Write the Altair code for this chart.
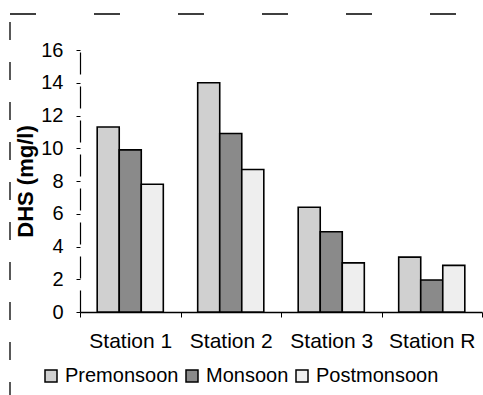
import altair as alt
import pandas as pd

# Dissolved hydrogen sulphide per sampling station and season
stations = ["Station 1", "Station 2", "Station 3", "Station R"]
seasons = ["Premonsoon", "Monsoon", "Postmonsoon"]
premonsoon = [11.3, 14.0, 6.4, 3.35]
monsoon = [9.9, 10.9, 4.9, 1.95]
postmonsoon = [7.8, 8.7, 3.0, 2.85]
y_ticks = [0, 2, 4, 6, 8, 10, 12, 14, 16]

season_fills = ["#d0d0d0", "#8a8a8a", "#eeeeee"]
FONT = "Liberation Sans"

rows = []
for name, series in zip(seasons, [premonsoon, monsoon, postmonsoon]):
    for st, v in zip(stations, series):
        rows.append({"station": st, "season": name, "dhs": v})
df = pd.DataFrame(rows)

bars = alt.Chart(df).mark_bar(stroke="black", strokeWidth=1.6).encode(
    x=alt.X(
        "station:N",
        sort=stations,
        scale=alt.Scale(paddingInner=0, paddingOuter=0),
        axis=alt.Axis(
            title=None, labelAngle=0, labelFontSize=21, labelFont=FONT,
            labelColor="black", labelPadding=13, tickBand="extent",
            tickSize=5, tickColor="black", domainColor="black", domainWidth=1.5,
        ),
    ),
    xOffset=alt.XOffset(
        "season:N", sort=seasons,
        scale=alt.Scale(paddingInner=0, paddingOuter=0.78),
    ),
    y=alt.Y(
        "dhs:Q",
        scale=alt.Scale(domain=[0, 16], nice=False),
        axis=alt.Axis(
            values=y_ticks, title="DHS (mg/l)", grid=False,
            labelFontSize=20, labelFont=FONT, labelColor="black", labelPadding=13,
            tickSize=4, tickColor="black", domainColor="black", domainWidth=1.2,
            domainDash=[22, 12], titleFont=FONT, titleFontSize=22,
            titleFontWeight="bold", titleColor="black", titlePadding=3,
        ),
    ),
    fill=alt.Fill(
        "season:N", sort=seasons,
        scale=alt.Scale(domain=seasons, range=season_fills),
        legend=alt.Legend(
            title=None, orient="none", legendX=-39, legendY=316,
            direction="horizontal", symbolType="square", symbolSize=144,
            symbolStrokeColor="black", symbolStrokeWidth=1.5,
            labelFontSize=20, labelFont=FONT, labelColor="black",
            labelOffset=4, columnPadding=3,
        ),
    ),
)

# Dashed page frame along the top and left edges
edge_src = alt.Data(values=[{"edge": "frame"}])
top_edge = alt.Chart(edge_src).mark_rule(
    color="black", strokeWidth=1.5, strokeDash=[26, 58]
).encode(x=alt.value(-70), x2=alt.value(390), y=alt.value(-36))
left_edge = alt.Chart(edge_src).mark_rule(
    color="black", strokeWidth=1.3, strokeDash=[18, 22]
).encode(x=alt.value(-70), y=alt.value(-28), y2=alt.value(345))

chart = alt.layer(bars, top_edge, left_edge).properties(
    width=402,
    height=262,
    autosize=alt.AutoSizeParams(type="none"),
    padding={"left": 80, "top": 50, "right": 1, "bottom": 83},
    background="white",
).configure_view(stroke=None)

chart.save("out.html", embed_options={"renderer": "svg", "actions": False})
